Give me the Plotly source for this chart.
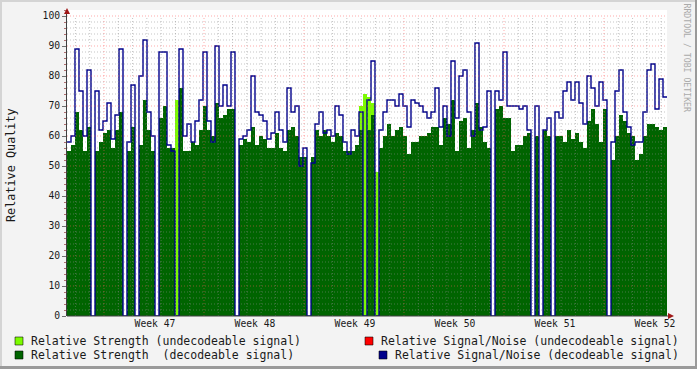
import plotly.graph_objects as go

# ---------------- data ----------------
week_ticks = [47, 48, 49, 50, 51, 52]
week_labels = ["Week 47", "Week 48", "Week 49", "Week 50", "Week 51", "Week 52"]
start_week = 46.12      # first sample (in week units)
step_week = 0.04        # sample spacing (in week units)
week_boundary = 46.49   # first week boundary (major grid)

snr_decodable = [
    58, 60, 89, 75, 60, 82, 0, 75, 62, 65, 71, 59, 67, 89, 0, 58, 77, 0, 80, 92,
    68, 60, 0, 88, 88, 57, 55, 0, 89, 60, 64, 58, 65, 72, 88, 65, 58, 90, 70, 77,
    70, 88, 0, 59, 60, 62, 80, 68, 67, 65, 59, 61, 68, 62, 58, 76, 68, 70, 50, 56,
    0, 51, 64, 68, 61, 62, 60, 70, 67, 58, 54, 62, 60, 68, 0, 72, 85, 0, 62, 68,
    72, 72, 70, 74, 70, 63, 72, 71, 70, 68, 66, 68, 76, 63, 70, 60, 85, 66, 80, 82,
    68, 60, 91, 62, 63, 75, 0, 75, 72, 88, 70, 70, 70, 69, 70, 62, 0, 70, 0, 62,
    66, 0, 68, 66, 75, 78, 72, 78, 71, 64, 80, 76, 70, 78, 72, 0, 58, 75, 82, 68,
    63, 57, 58, 58, 68, 82, 84, 69, 79, 73,
]

strength_decodable = [
    55, 57, 68, 62, 55, 63, 0, 55, 58, 61, 62, 56, 62, 68, 0, 55, 63, 0, 57, 72,
    62, 55, 0, 66, 70, 56, 56, 0, 76, 55, 55, 58, 57, 62, 70, 62, 60, 71, 66, 67,
    69, 69, 0, 57, 59, 58, 63, 57, 60, 59, 56, 56, 61, 56, 55, 62, 63, 60, 53, 53,
    0, 53, 62, 60, 62, 60, 58, 61, 60, 55, 55, 55, 57, 62, 0, 62, 67, 0, 56, 60,
    64, 60, 62, 63, 60, 54, 58, 58, 60, 60, 61, 63, 63, 57, 66, 64, 72, 55, 65, 66,
    56, 62, 71, 63, 58, 56, 0, 69, 70, 66, 66, 55, 57, 57, 60, 61, 0, 60, 0, 62,
    60, 0, 60, 60, 58, 62, 59, 61, 58, 56, 65, 69, 64, 58, 69, 0, 52, 60, 67, 65,
    61, 60, 52, 54, 60, 64, 64, 63, 62, 63,
]

strength_undecodable = [
    0, 0, 0, 0, 0, 0, 0, 0, 0, 0, 0, 0, 0, 0, 0, 0, 0, 0, 0, 0,
    0, 0, 0, 0, 0, 0, 0, 72, 0, 0, 0, 0, 0, 0, 0, 0, 0, 0, 0, 0,
    0, 0, 0, 0, 0, 0, 0, 0, 0, 0, 0, 0, 0, 0, 0, 0, 0, 0, 0, 0,
    0, 0, 0, 0, 0, 0, 0, 0, 0, 0, 0, 0, 0, 70, 74, 73, 71, 48, 0, 0,
    0, 0, 0, 0, 0, 0, 0, 0, 0, 0, 0, 0, 0, 0, 0, 0, 0, 0, 0, 0,
    0, 0, 0, 0, 0, 0, 0, 0, 0, 0, 0, 0, 0, 0, 0, 0, 0, 0, 0, 0,
    0, 0, 0, 0, 0, 0, 0, 0, 0, 0, 0, 0, 0, 0, 0, 0, 0, 0, 0, 0,
    0, 0, 0, 0, 0, 0, 0, 0, 0, 0,
]

legend_labels = [
    "Relative Strength (undecodeable signal)",
    "Relative Signal/Noise (undecodeable signal)",
    "Relative Strength  (decodeable signal)",
    "Relative Signal/Noise (decodeable signal)",
]

# ---------------- styling ----------------
W, H = 697, 369
L, R, T, B = 67, 30, 10, 53
PW, PH = W - L - R, H - T - B
MONO = "DejaVu Sans Mono"
C_LIGHT = "#7CFC00"
C_DARK = "#006400"
C_BLUE = "#00008B"
C_RED = "#FF0000"

n = len(snr_decodable)
x = [start_week + step_week * i for i in range(n)]
x_end = start_week + step_week * n
xs = x + [x_end]


def ext(vals):
    return list(vals) + [vals[-1]]


def px_x(p):
    return (p - L) / PW


def px_y(p):
    return (H - B - p) / PH


fig = go.Figure()
fig.add_trace(go.Scatter(x=xs, y=ext(strength_undecodable), mode="lines",
                         line=dict(width=0, shape="hv"), fill="tozeroy",
                         fillcolor=C_LIGHT, hoverinfo="skip", showlegend=False))
fig.add_trace(go.Scatter(x=xs, y=ext(strength_decodable), mode="lines",
                         line=dict(width=0, shape="hv"), fill="tozeroy",
                         fillcolor=C_DARK, hoverinfo="skip", showlegend=False))
fig.add_trace(go.Scatter(x=xs, y=ext(snr_decodable), mode="lines",
                         line=dict(width=1.4, shape="hv", color=C_BLUE),
                         hoverinfo="skip", showlegend=False))

shapes = []
MINOR = "rgba(140,140,140,0.5)"
MAJOR = "rgba(255,90,90,0.5)"
DASH = "1px,2px"

# horizontal grid
for v in range(2, 101, 2):
    col = MAJOR if v % 10 == 0 else MINOR
    shapes.append(dict(type="line", xref="paper", yref="y", x0=0, x1=1, y0=v, y1=v,
                       line=dict(color=col, width=1, dash=DASH), layer="above"))
# vertical grid (days minor, weeks major)
for j in range(-2, 42):
    xv = week_boundary + j / 7.0
    if xv <= start_week or xv >= x_end:
        continue
    col = MAJOR if j % 7 == 0 else MINOR
    shapes.append(dict(type="line", xref="x", yref="paper", x0=xv, x1=xv, y0=0, y1=px_y(16),
                       line=dict(color=col, width=1, dash=DASH), layer="above"))

# axis extension and arrows
shapes.append(dict(type="line", xref="paper", yref="paper", x0=px_x(L), x1=px_x(670),
                   y0=0, y1=0, line=dict(color="#404040", width=1), layer="above"))
shapes.append(dict(type="path", xref="paper", yref="paper",
                   path="M {} {} L {} {} L {} {} Z".format(px_x(64), px_y(14), px_x(70), px_y(14), px_x(67), px_y(8)),
                   fillcolor="#A01818", line=dict(width=0), layer="above"))
shapes.append(dict(type="path", xref="paper", yref="paper",
                   path="M {} {} L {} {} L {} {} Z".format(px_x(668), px_y(313), px_x(668), px_y(319), px_x(674), px_y(316)),
                   fillcolor="#A01818", line=dict(width=0), layer="above"))

# frame of the image
shapes.append(dict(type="rect", xref="paper", yref="paper", x0=px_x(0), x1=px_x(W), y0=px_y(0), y1=px_y(2),
                   fillcolor="#D4D4D4", line=dict(width=0), layer="below"))
shapes.append(dict(type="rect", xref="paper", yref="paper", x0=px_x(0), x1=px_x(2), y0=px_y(0), y1=px_y(H),
                   fillcolor="#D4D4D4", line=dict(width=0), layer="below"))
shapes.append(dict(type="rect", xref="paper", yref="paper", x0=px_x(W - 2), x1=px_x(W), y0=px_y(0), y1=px_y(H),
                   fillcolor="#9A9A9A", line=dict(width=0), layer="below"))
shapes.append(dict(type="rect", xref="paper", yref="paper", x0=px_x(0), x1=px_x(W), y0=px_y(H - 3), y1=px_y(H),
                   fillcolor="#9A9A9A", line=dict(width=0), layer="below"))

# legend squares + texts
annotations = []
legend_items = [
    (15, 341, C_LIGHT, legend_labels[0], "left"),
    (365, 341, C_RED, legend_labels[1], "right"),
    (15, 355, C_DARK, legend_labels[2], "left"),
    (379, 355, C_BLUE, legend_labels[3], "right"),
]
for sx, cy, col, txt, anchor in legend_items:
    shapes.append(dict(type="rect", xref="paper", yref="paper",
                       x0=px_x(sx), x1=px_x(sx + 8), y0=px_y(cy - 4), y1=px_y(cy + 4),
                       fillcolor=col, line=dict(color="rgba(0,0,0,0.55)", width=1), layer="above"))
    tx = px_x(sx + 13.5) if anchor == "left" else px_x(680.5)
    annotations.append(dict(xref="paper", yref="paper", x=tx, y=px_y(cy),
                            xanchor=anchor, yanchor="middle", showarrow=False, text=txt,
                            font=dict(family=MONO, size=11.5, color="#1a1a1a")))

annotations.append(dict(xref="paper", yref="paper", x=px_x(11), y=px_y(165), textangle=-90,
                        xanchor="center", yanchor="middle", showarrow=False,
                        text="Relative Quality", font=dict(family=MONO, size=11.8, color="#1a1a1a")))
annotations.append(dict(xref="paper", yref="paper", x=px_x(686.5), y=px_y(58), textangle=90,
                        xanchor="center", yanchor="middle", showarrow=False,
                        text="RRDTOOL / TOBI OETIKER", font=dict(family=MONO, size=8.2, color="#AAAAAA")))

fig.update_layout(
    width=W, height=H,
    margin=dict(l=L, r=R, t=T, b=B, pad=0),
    paper_bgcolor="#F3F3F3", plot_bgcolor="#FFFFFF",
    showlegend=False,
    shapes=shapes, annotations=annotations,
    xaxis=dict(range=[start_week, x_end], tickvals=week_ticks, ticktext=week_labels,
               showgrid=False, zeroline=False, showline=False, ticks="",
               tickfont=dict(family=MONO, size=9.7, color="#1a1a1a"), fixedrange=True),
    yaxis=dict(range=[0, 102], tickvals=list(range(0, 101, 10)), showgrid=False, zeroline=False,
               showline=True, linecolor="#404040", linewidth=1, ticks="outside", ticklen=4,
               tickcolor="#707070", minor=dict(dtick=2, ticks="outside", ticklen=2, tickcolor="#B07070"),
               tickfont=dict(family=MONO, size=9.7, color="#1a1a1a"), fixedrange=True),
)

fig.write_html("out.html", config={"displayModeBar": False},
               post_script="document.body.style.margin='0';")
